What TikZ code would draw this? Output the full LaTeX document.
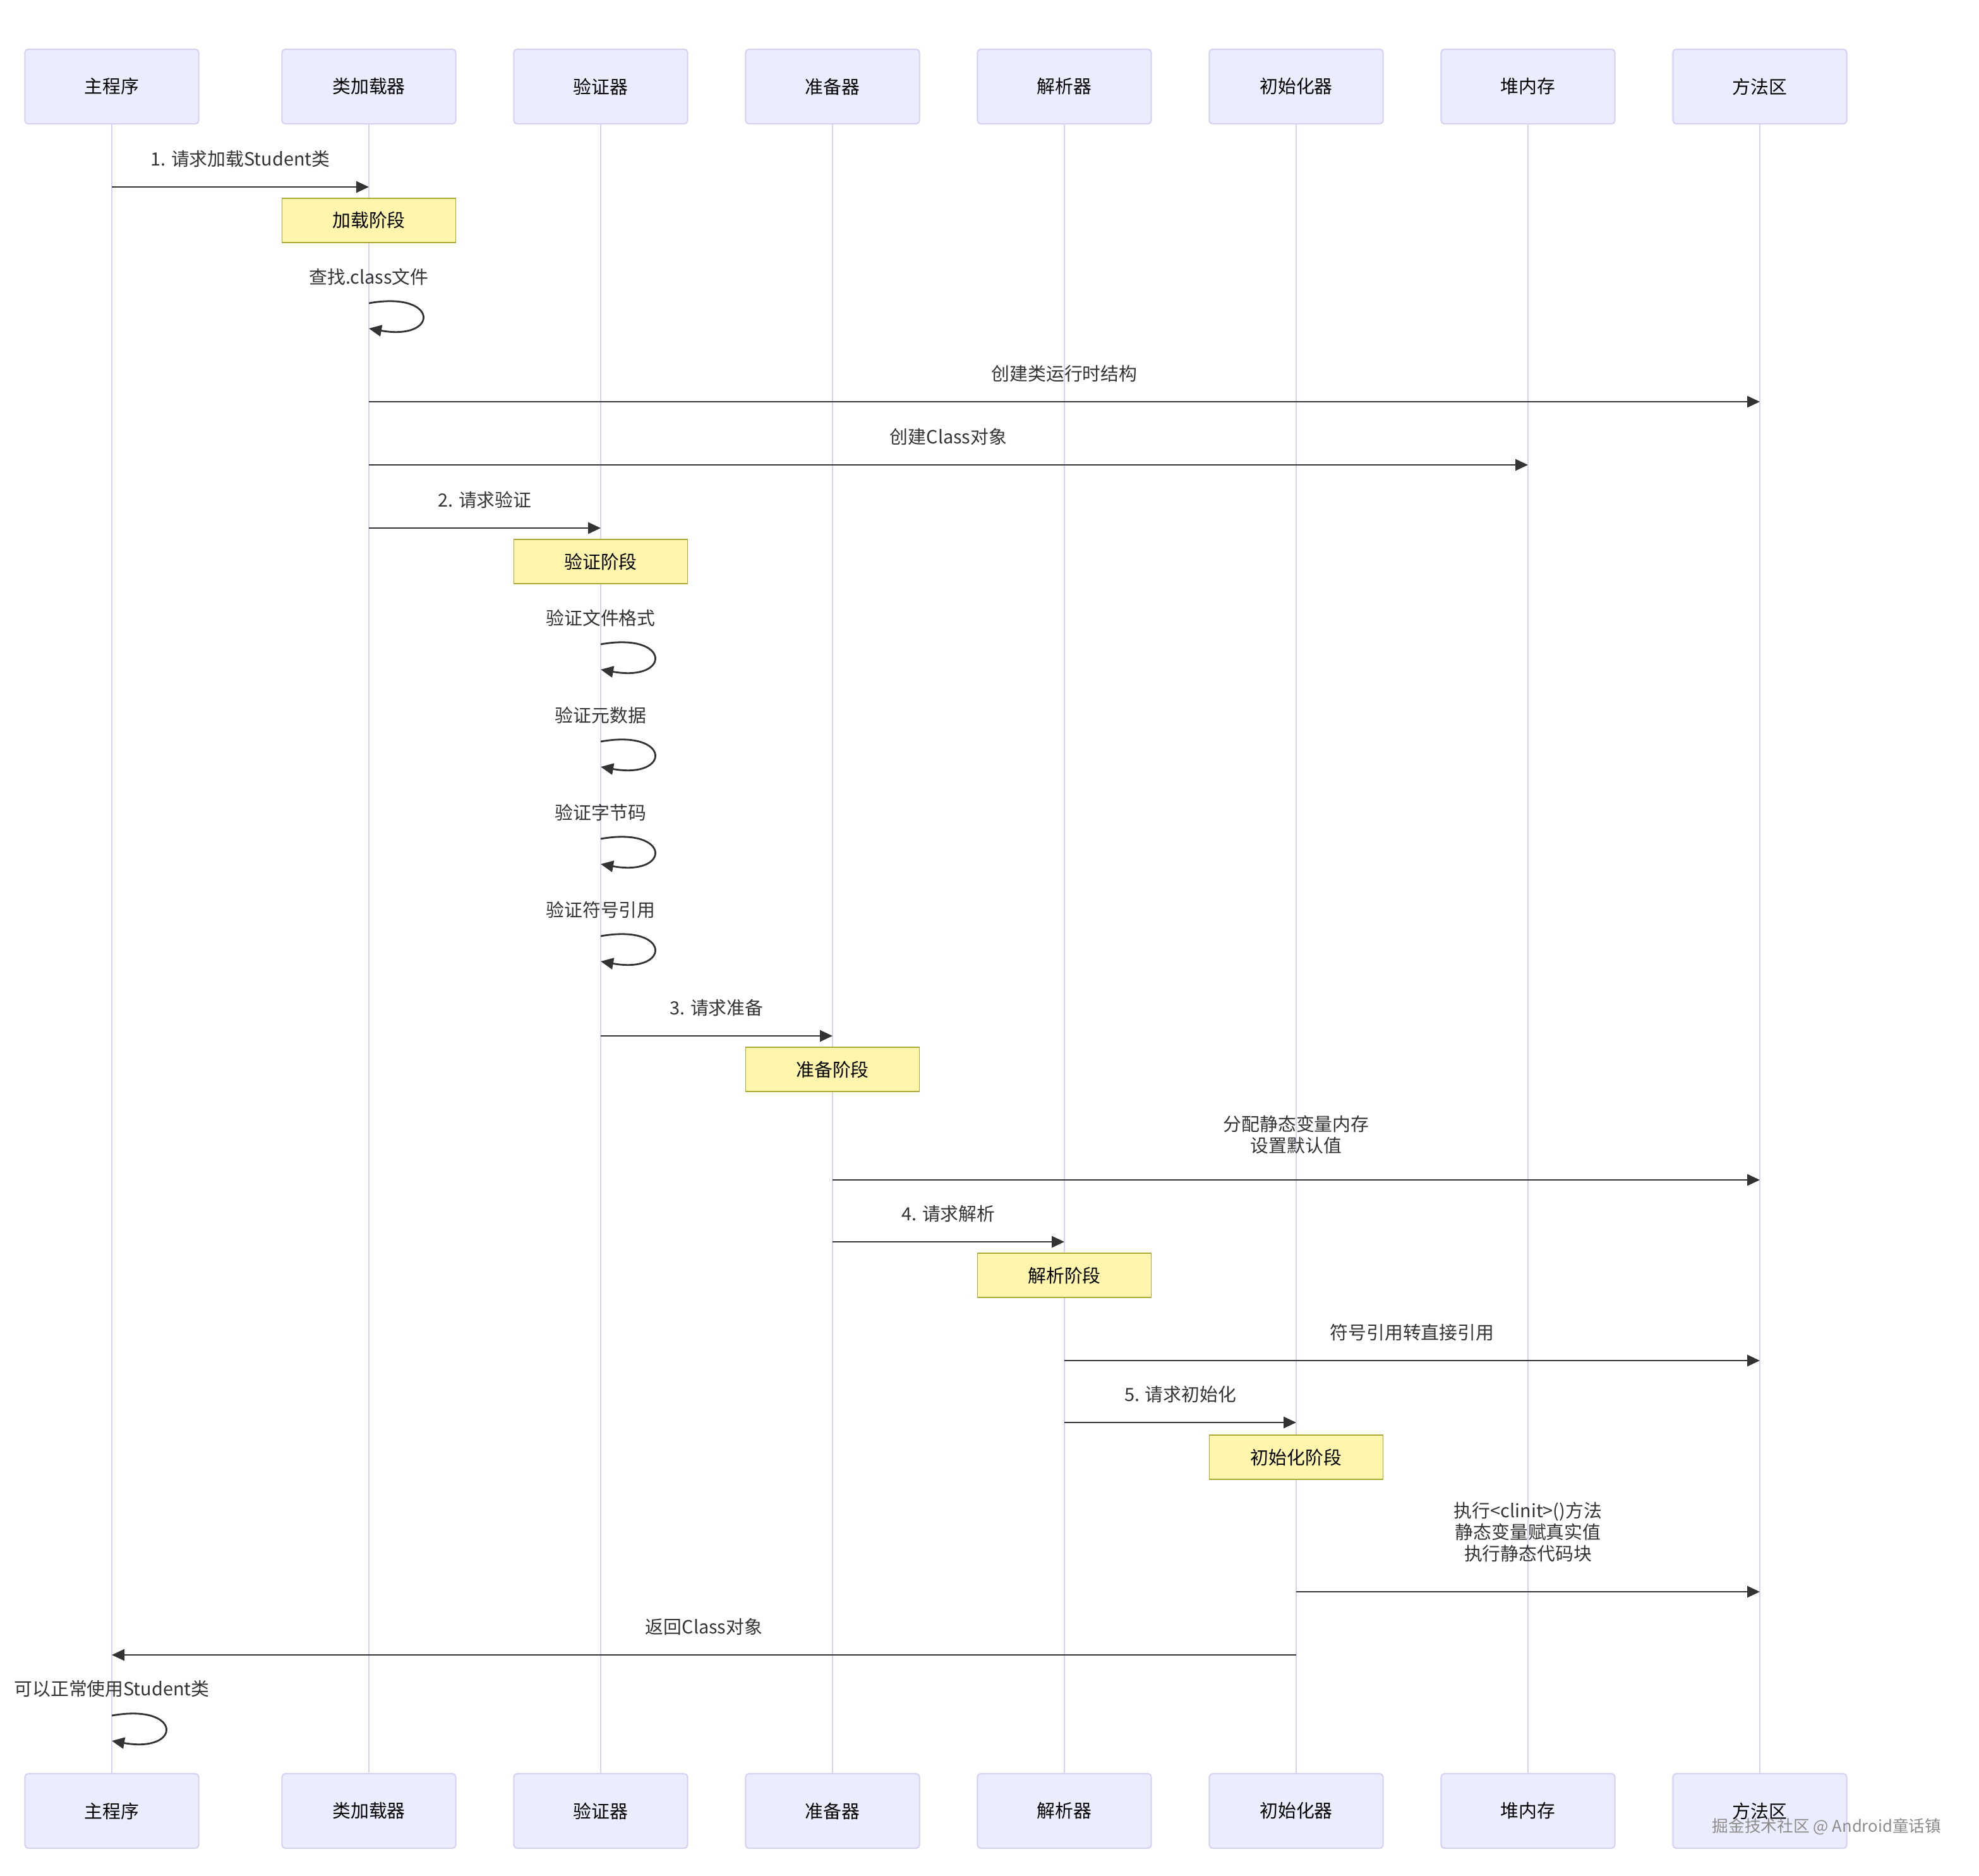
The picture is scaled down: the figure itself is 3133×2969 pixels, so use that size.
\documentclass[tikz,border=0pt]{standalone}
\usepackage{fontspec}
\setmainfont{Noto Sans CJK SC}
\usetikzlibrary{arrows.meta}

\definecolor{actorfill}{HTML}{ECECFF}
\definecolor{actorline}{HTML}{D6D0F2}
\definecolor{lifecol}{HTML}{D6D2F2}
\definecolor{notefill}{HTML}{FFF5AD}
\definecolor{notedraw}{HTML}{AAAA33}
\definecolor{arrowcol}{HTML}{333333}
\definecolor{textcol}{HTML}{333333}

\begin{document}
\begin{tikzpicture}[x=0.01cm,y=-0.01cm,
    actor/.style={draw=actorline,fill=actorfill,rounded corners=1.5pt,
      minimum width=2.75cm,minimum height=1.18cm,line width=0.6pt,
      font=\fontsize{8.2}{10}\selectfont},
    note/.style={draw=notedraw,fill=notefill,minimum width=2.75cm,
      minimum height=0.7cm,line width=0.5pt,font=\fontsize{8.2}{10}\selectfont},
    lifeline/.style={draw=lifecol,line width=0.8pt},
    msg/.style={draw=arrowcol,line width=0.8pt,
      -{Triangle[length=0.2cm,width=0.18cm]}},
    lbl/.style={text=textcol,align=center,inner sep=0pt,
      font=\fontsize{8.2}{9.7}\selectfont},
    wmark/.style={text=black!45,inner sep=0pt,font=\fontsize{7.3}{9}\selectfont}]
  \useasboundingbox (0,0) rectangle (3133,2969);

  % actors, top and bottom, with their lifelines
  \foreach \n/\x/\t in {main/177/主程序,loader/584/类加载器,verifier/951/验证器,
      preparer/1318/准备器,resolver/1685/解析器,initer/2052/初始化器,
      heap/2419/堆内存,method/2786/方法区} {
    \node[actor] (\n) at (\x,137) {\t};
    \node[actor] (\n-b) at (\x,2867) {\t};
    \draw[lifeline] (\n) -- (\n-b);
  }

  % phase notes
  \foreach \a/\y/\t in {loader/349/加载阶段,verifier/889/验证阶段,
      preparer/1693/准备阶段,resolver/2019/解析阶段,initer/2307/初始化阶段}
    \node[note] (note-\a) at (\a |- 0,\y) {\t};

  % messages between lifelines
  \foreach \a/\b/\y/\g/\t in {main/loader/296/30/{1. 请求加载Student类},
      loader/method/636/30/创建类运行时结构,
      loader/heap/736/30/创建Class对象,
      loader/verifier/836/30/{2. 请求验证},
      verifier/preparer/1640/30/{3. 请求准备},
      preparer/method/1868/40/{分配静态变量内存\\设置默认值},
      preparer/resolver/1966/30/{4. 请求解析},
      resolver/method/2154/30/符号引用转直接引用,
      resolver/initer/2252/30/{5. 请求初始化},
      initer/method/2520/46/{执行<clinit>()方法\\静态变量赋真实值\\执行静态代码块},
      initer/main/2620/30/返回Class对象}
    \draw[msg] (\a |- 0,\y) -- node[lbl,above=\g*0.01cm] (lab-\y) {\t} (\b |- 0,\y);

  % self calls
  \foreach \a/\y/\t in {loader/480/查找.class文件,verifier/1020/验证文件格式,
      verifier/1174/验证元数据,verifier/1328/验证字节码,
      verifier/1482/验证符号引用,main/2716/可以正常使用Student类} {
    \node[lbl] (self-\y) at (\a |- 0,\y-42) {\t};
    \draw[msg] (\a |- 0,\y) .. controls +(112,-20) and +(112,20) .. (\a |- 0,\y+40);
  }

  \node[wmark] (wm) at (2892,2892) {掘金技术社区 @ Android童话镇};
\end{tikzpicture}
\end{document}
